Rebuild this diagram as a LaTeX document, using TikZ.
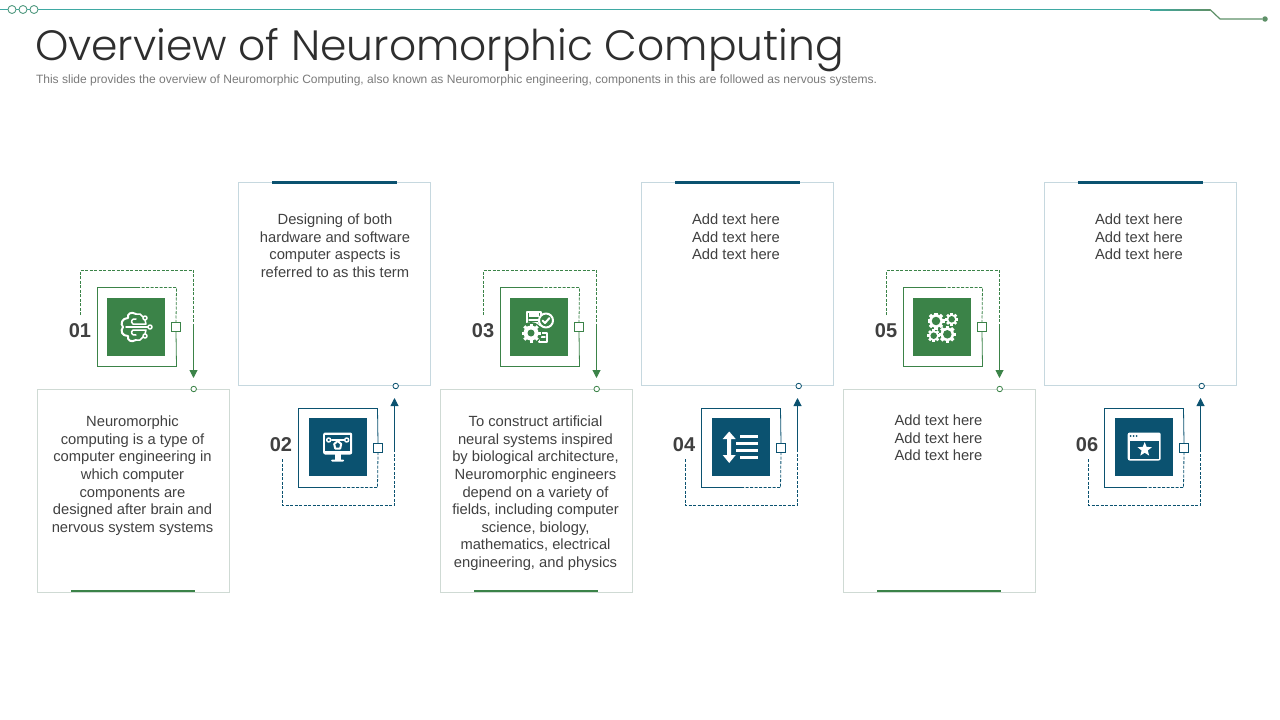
\documentclass[tikz,border=0pt]{standalone}
\usepackage{fontspec}
\setmainfont{Liberation Sans}
\newfontfamily\titlefont[UprightFont={* Light}]{Poppins}
\usetikzlibrary{arrows.meta,shapes.geometric}
\definecolor{leaf}{HTML}{3B8348}
\definecolor{ocean}{HTML}{0B5270}
\definecolor{leafedge}{HTML}{CFDAD4}
\definecolor{oceanedge}{HTML}{C6D8DF}
\definecolor{rail}{HTML}{3FA9A3}
\definecolor{railend}{HTML}{5E9068}
\definecolor{ink}{HTML}{404040}

\begin{document}
\begin{tikzpicture}[x=1pt,y=-1pt,
        every node/.style={inner sep=0pt,outer sep=0pt},
        panel/.style={draw=#1,line width=0.8pt,minimum width=192pt,minimum height=203pt},
        bar/.style={draw=#1,line width=2.8pt},
        frame/.style={minimum size=79pt},
        tile/.style={fill=#1,minimum size=58pt},
        tab/.style={draw=#1,fill=white,line width=0.8pt,minimum size=9.5pt},
        dot/.style={draw=#1,fill=white,line width=0.8pt,circle,minimum size=5.5pt},
        solidline/.style={draw=#1,line width=0.8pt},
        dashline/.style={draw=#1,line width=0.8pt,dash pattern=on 3pt off 1.5pt},
        tipline/.style={draw=#1,line width=1pt,-{Triangle[length=8pt,width=8pt,fill=#1]}},
        stepnum/.style={font=\fontsize{20}{24}\selectfont\bfseries,text=ink},
        body/.style={font=\fontsize{14.75}{17.6}\selectfont,text=ink,align=center,anchor=north},
        wire/.style={draw=white,line width=2pt,line cap=round,line join=round},
        thinwire/.style={draw=white,line width=1.5pt,line cap=round,line join=round}]
    \useasboundingbox (0,0) rectangle (1280,720);

    \node[anchor=base west,font=\fontsize{42.4}{50}\selectfont\titlefont,text=black!82] (title) at (35,60) {Overview of Neuromorphic Computing};
    \node[anchor=west,font=\fontsize{12.04}{14}\selectfont,text=black!52] (subtitle) at (36,80) {This slide provides the overview of Neuromorphic Computing, also known as Neuromorphic engineering, components in this are followed as nervous systems.};

    \coordinate (railbend) at (1210,9.5);
    \coordinate (raildrop) at (1220,19);
    \node[fill=railend,circle,minimum size=5.5pt] (railtail) at (1265,19) {};
    \fill[rail] (0,9) rectangle (1150,10);
    \fill[left color=rail,right color=railend] (1150,9) rectangle (1210,10);
    \draw[draw=railend,line width=1.2pt,line join=round] (railbend) -- (raildrop) -- (railtail);
    \foreach \n/\x in {1/12,2/23,3/34}
        \node[draw=railend!60!rail,fill=white,line width=0.9pt,circle,minimum size=8pt] (ring\n) at (\x,9.5) {};

    \foreach \n/\dx in {1/0,3/403,5/806} {
        \node[panel=leafedge] (panel\n) at (133.5+\dx,491) {};
        \draw[bar=leaf] ([xshift=-62.5pt]panel\n.south) ++(0,1.5pt) -- ++(124pt,0);
        \node[frame] (frame\n) at (137+\dx,327) {};
        \node[tile=leaf] (icon\n) at (136+\dx,327) {};
        \node[tab=leaf] (tab\n) at (176+\dx,327) {};
        \node[dot=leaf] (dot\n) at (193.7+\dx,389) {};
        \coordinate (start\n) at (80.5+\dx,315);
        \coordinate (over\n) at (193.5+\dx,270);
        \coordinate (turn\n) at (193.5+\dx,325);
        \coordinate (tip\n) at (193.5+\dx,378);
        \draw[solidline=leaf] (frame\n.north) -- (frame\n.north west) -- (frame\n.south west) -- (frame\n.south east) -- (tab\n.south);
        \draw[dashline=leaf] (frame\n.north) -- (frame\n.north east) -- (tab\n.north);
        \draw[dashline=leaf] (start\n) |- (over\n) -- (turn\n);
        \draw[tipline=leaf] (turn\n) -- (tip\n);
    }
    \foreach \n/\dx in {2/0,4/403,6/806} {
        \node[panel=oceanedge] (panel\n) at (334.5+\dx,283.5) {};
        \draw[bar=ocean] ([xshift=-62.5pt]panel\n.north) ++(0,-0.7pt) -- ++(125pt,0);
        \node[frame] (frame\n) at (338+\dx,448) {};
        \node[tile=ocean] (icon\n) at (337.7+\dx,447) {};
        \node[tab=ocean] (tab\n) at (378+\dx,448) {};
        \node[dot=ocean] (dot\n) at (395.7+\dx,386) {};
        \coordinate (start\n) at (282+\dx,459);
        \coordinate (under\n) at (394.5+\dx,505);
        \coordinate (turn\n) at (394.5+\dx,450);
        \coordinate (tip\n) at (394.5+\dx,398);
        \draw[solidline=ocean] (frame\n.south) -- (frame\n.south west) -- (frame\n.north west) -- (frame\n.north east) -- (tab\n.north);
        \draw[dashline=ocean] (frame\n.south) -- (frame\n.south east) -- (tab\n.south);
        \draw[dashline=ocean] (start\n) |- (under\n) -- (turn\n);
        \draw[tipline=ocean] (turn\n) -- (tip\n);
    }

    \node[stepnum] (num1) at (80,330.5) {01};
    \node[stepnum] (num2) at (281,444.5) {02};
    \node[stepnum] (num3) at (483,330.5) {03};
    \node[stepnum] (num4) at (684,444.5) {04};
    \node[stepnum] (num5) at (886,330.5) {05};
    \node[stepnum] (num6) at (1087,444.5) {06};

    \node[body] (text1) at (132.5,416) {Neuromorphic\\computing is a type of\\computer engineering in\\which computer\\components are\\designed after brain and\\nervous system systems};
    \node[body] (text2) at (335,214) {Designing of both\\hardware and software\\computer aspects is\\referred to as this term};
    \node[body] (text3) at (535.5,416) {To construct artificial\\neural systems inspired\\by biological architecture,\\Neuromorphic engineers\\depend on a variety of\\fields, including computer\\science, biology,\\mathematics, electrical\\engineering, and physics};
    \node[body] (text4) at (736,214) {Add text here\\Add text here\\Add text here};
    \node[body] (text5) at (938.5,415) {Add text here\\Add text here\\Add text here};
    \node[body] (text6) at (1139,214) {Add text here\\Add text here\\Add text here};

    \begin{scope}[shift={(icon1.center)}]
        \draw[wire] (0,-13) .. controls (-5,-16) and (-9,-13) .. (-8,-9) .. controls (-14,-9) and (-16,-3) .. (-13,0) .. controls (-16,4) and (-14,9) .. (-8,9) .. controls (-9,13) and (-5,16) .. (0,13);
        \draw[thinwire] (0,-8) .. controls (-4,-9) and (-6,-5) .. (-3,-3) -- (10,-3) -- (9,-7);
        \draw[thinwire] (0,8) .. controls (-4,9) and (-6,5) .. (-3,3) -- (10,3) -- (9,7);
        \draw[thinwire] (-10,0) -- (12,0);
        \draw[thinwire] (0,-13) -- (4,-13) -- (7,-10);
        \draw[thinwire] (0,13) -- (4,13) -- (7,10);
        \foreach \cx/\cy in {9/-9,14/0,9/9}
            \draw[thinwire,fill=leaf] (\cx,\cy) circle (2);
    \end{scope}

    \begin{scope}[shift={(icon2.center)}]
        \fill[white,rounded corners=2pt] (-14.5,-14.5) rectangle (14.5,7.5);
        \fill[ocean] (-12.5,-12.5) rectangle (12.5,3.5);
        \fill[white] (-3,7) rectangle (3,13);
        \fill[white,rounded corners=1pt] (-6.5,12.5) rectangle (6.5,14.5);
        \draw[thinwire] (-6,-7) -- (6,-7);
        \draw[thinwire,fill=ocean] (-9,-7) circle (2);
        \draw[thinwire,fill=ocean] (9,-7) circle (2);
        \draw[wire,fill=ocean] (-3.5,-3) -- (0,-6) -- (3.5,-3) -- (2.5,1.5) -- (-2.5,1.5) -- cycle;
    \end{scope}

    \begin{scope}[shift={(icon3.center)}]
        \draw[wire] (-12,-15.5) rectangle (2,-2);
        \fill[white] (-10,-14) rectangle (0,-10);
        \draw[thinwire] (-10,-7) -- (-1,-7);
        \draw[thinwire] (-10,-4) -- (-1,-4);
        \draw[wire,fill=leaf] (7,-6.5) circle (7);
        \draw[wire] (3.5,-6.5) -- (6,-4) -- (10.5,-9);
        \draw[wire,fill=leaf] (0,6) rectangle (8,15);
        \draw[thinwire] (2,10) -- (6,10);
        \fill[leaf] (-8,6) circle (11);
        \foreach \a in {0,45,...,315}
            \draw[white,line width=3pt] (-8,6) -- ++(\a:9.5);
        \fill[white] (-8,6) circle (7.5);
        \fill[leaf] (-8,6) circle (3.5);
    \end{scope}

    \begin{scope}[shift={(icon4.center)}]
        \fill[white] (-18,-8) -- (-11.5,-15.5) -- (-5,-8) -- (-9.5,-8) -- (-9.5,8) -- (-5,8) -- (-11.5,16) -- (-18,8) -- (-13.5,8) -- (-13.5,-8) -- cycle;
        \fill[white] (-1,-12.5) rectangle (17.5,-9.5);
        \fill[white] (-5,-5.5) rectangle (17.5,-2.5);
        \fill[white] (-5,1.5) rectangle (17.5,4.5);
        \fill[white] (-1,8.5) rectangle (17.5,11.5);
    \end{scope}

    \begin{scope}[shift={(icon5.center)}]
        \foreach \gx/\gy/\gr in {-6/-6/8.5,9.7/-7.7/6.5,-8.3/8.7/6.5,5.3/7.3/8.5} {
            \foreach \a in {0,45,...,315}
                \draw[white,line width=0.4*\gr] (\gx,\gy) -- ++(\a:\gr);
            \fill[white] (\gx,\gy) circle (0.8*\gr);
            \fill[leaf] (\gx,\gy) circle (0.5*\gr);
        }
    \end{scope}

    \begin{scope}[shift={(icon6.center)}]
        \fill[white,rounded corners=2pt] (-16,-14.5) rectangle (17,13.5);
        \fill[ocean] (-14,-6.5) rectangle (15,11.5);
        \foreach \cx in {-13,-10,-7}
            \fill[ocean] (\cx,-11) circle (1);
        \node[star,star points=5,star point ratio=2.3,fill=white,minimum size=15pt] (star6) at (1,2.5) {};
    \end{scope}
\end{tikzpicture}
\end{document}
